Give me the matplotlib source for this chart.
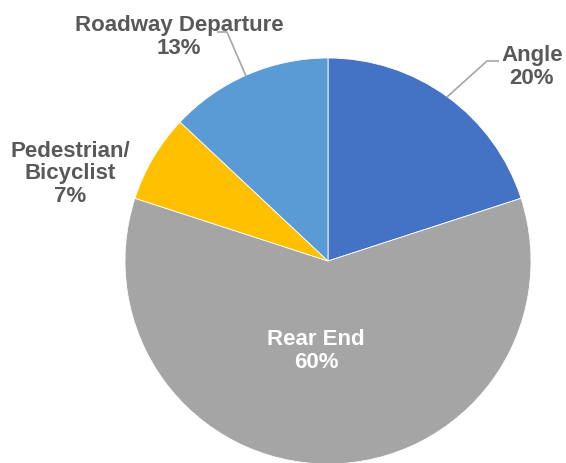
import matplotlib
matplotlib.use("Agg")
import matplotlib.pyplot as plt
from matplotlib import font_manager

categories = ["Angle", "Rear End", "Pedestrian/\nBicyclist", "Roadway Departure"]
shares = [20, 60, 7, 13]
colors = ["#4472C4", "#A5A5A5", "#FFC000", "#5B9BD5"]

# Prefer a narrow bold sans; fall back to the regular width family.
def pick_font():
    for fam in ["Liberation Sans Narrow", "Arial Narrow"]:
        try:
            font_manager.findfont(font_manager.FontProperties(family=fam, weight="bold"),
                                  fallback_to_default=False)
            return fam, 18.5
        except Exception:
            pass
    return "Liberation Sans", 16

family, fsize = pick_font()

W, H = 566, 464
fig = plt.figure(figsize=(W / 100, H / 100), dpi=100)
ax = fig.add_axes([0, 0, 1, 1])

cx, cy, r = 328, 262, 203
wedges, _ = ax.pie(shares, colors=colors, startangle=90, counterclock=False,
                   center=(cx, cy), radius=r, frame=True,
                   wedgeprops=dict(edgecolor="white", linewidth=0.6))
# pie draws in a y-up sense; with an inverted y axis, flip it back
for w in wedges:
    w.set_transform(matplotlib.transforms.Affine2D()
                    .translate(-cx, -cy).scale(1, -1).translate(cx, cy) + ax.transData)
ax.set_xlim(0, W)
ax.set_ylim(H, 0)
ax.set_aspect("equal")
ax.axis("off")

label_color = "#595959"
txt = dict(family=family, weight="bold", fontsize=fsize, ha="center", va="center",
           linespacing=1.12)

# Angle
ax.text(532, 67, f"{categories[0]}\n{shares[0]}%", color=label_color, **txt)
ax.plot([447, 487, 499], [98, 62, 62], color="#A6A6A6", lw=1.2, solid_capstyle="butt")

# Rear End (inside)
ax.text(316, 351, f"{categories[1]}\n{shares[1]}%", color="white", **txt)

# Pedestrian/Bicyclist
ax.text(70, 174, f"{categories[2]}\n{shares[2]}%", color=label_color, **txt)

# Roadway Departure
ax.text(179, 37, f"{categories[3]}\n{shares[3]}%", color=label_color, **txt)
ax.plot([246, 227, 217], [77, 33, 33], color="#A6A6A6", lw=1.2, solid_capstyle="butt")

fig.savefig("out.png", dpi=100)
